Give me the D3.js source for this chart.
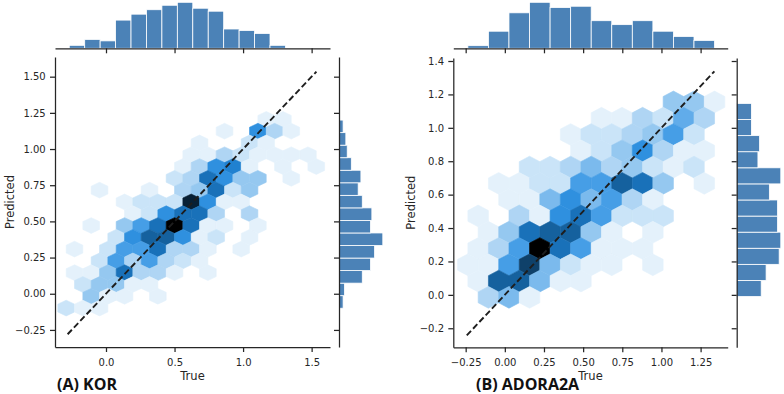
<!DOCTYPE html>
<html><head><meta charset="utf-8">
<script src="https://cdn.jsdelivr.net/npm/d3@7"></script>
<style>
body{margin:0;background:#fff}
svg{display:block}
</style>
</head><body>
<svg id="c" width="784" height="394"></svg>
<script>
// ================= DATA =================
// ---- Panel A: KOR ----
const korXTicks = [0.0, 0.5, 1.0, 1.5];
const korYTicks = [-0.25, 0.0, 0.25, 0.5, 0.75, 1.0, 1.25, 1.5];
const korDiagonal = [-0.28, 1.535];
// hexbin lattice (data units): centre = x0 + i*dx/2 , y0 + j*dy/2
const korHexGrid = { x0: -0.2904, y0: -0.099, dx: 0.1216, dy: 0.163 };
// [i, j, count]
const korHexCells = [
  [24,16,2],[26,16,2],
  [19,15,2],[23,15,9],[25,15,4],[27,15,2],
  [16,14,2],[22,14,3],[24,14,2],
  [15,13,2],[17,13,2],[19,13,4],[21,13,3],[23,13,2],[25,13,2],[27,13,2],[29,13,2],
  [14,12,2],[16,12,4],[18,12,9],[20,12,10],[22,12,2],[26,12,2],[30,12,2],
  [13,11,3],[15,11,4],[17,11,11],[19,11,9],[21,11,5],[23,11,5],[27,11,2],
  [4,10,2],[10,10,2],[14,10,4],[16,10,5],[18,10,11],[20,10,3],[22,10,5],
  [7,9,2],[9,9,3],[11,9,3],[13,9,3],[15,9,16],[17,9,9],[19,9,2],[21,9,2],
  [8,8,2],[10,8,3],[12,8,9],[14,8,11],[16,8,11],[18,8,4],[22,8,4],
  [3,7,2],[7,7,5],[9,7,8],[11,7,11],[13,7,18],[15,7,11],[17,7,2],[19,7,2],[23,7,2],
  [6,6,3],[8,6,9],[10,6,12],[12,6,12],[14,6,9],[16,6,2],[18,6,3],[22,6,2],
  [1,5,2],[5,5,3],[7,5,8],[9,5,8],[11,5,11],[13,5,4],[15,5,4],[17,5,2],[21,5,2],
  [4,4,3],[6,4,8],[8,4,4],[10,4,8],[12,4,4],[14,4,3],[16,4,2],
  [1,3,2],[3,3,2],[5,3,5],[7,3,11],[9,3,4],[11,3,4],[13,3,2],[17,3,2],
  [2,2,3],[4,2,5],[6,2,5],[8,2,2],[10,2,2],
  [3,1,5],[5,1,2],[7,1,2],[11,1,2],
  [0,0,3],[2,0,2],[4,0,2]
];
const korTrueBinStart = -0.268, korTrueBinWidth = 0.11264;
const korTrueCounts = [2, 6, 5, 19, 23, 26, 29, 31, 27, 25, 13, 12, 10, 2];
const korPredBinStart = -0.1, korPredBinWidth = 0.08667;
const korPredCounts = [3, 4, 17, 23, 26, 32, 23, 24, 17, 14, 16, 9, 6, 5, 3];

// ---- Panel B: ADORA2A ----
const adoXTicks = [-0.25, 0.0, 0.25, 0.5, 0.75, 1.0, 1.25];
const adoYTicks = [-0.2, 0.0, 0.2, 0.4, 0.6, 0.8, 1.0, 1.2, 1.4];
const adoDiagonal = [-0.243, 1.338];
const adoHexGrid = { x0: -0.236, y0: -0.015, dx: 0.13125, dy: 0.195 };
const adoHexCells = [
  [20,12,5],[22,12,5],[24,12,2],
  [13,11,2],[15,11,2],[17,11,4],[19,11,3],[21,11,7],[23,11,4],
  [10,10,2],[12,10,3],[14,10,3],[16,10,4],[18,10,5],[20,10,8],[22,10,3],
  [11,9,2],[13,9,3],[15,9,5],[17,9,9],[19,9,4],[21,9,2],[23,9,2],
  [6,8,3],[8,8,3],[10,8,4],[12,8,6],[14,8,4],[16,8,5],[18,8,3],[20,8,2],[22,8,3],
  [3,7,2],[5,7,2],[7,7,3],[9,7,3],[11,7,8],[13,7,8],[15,7,12],[17,7,11],[19,7,5],[23,7,2],
  [4,6,2],[6,6,2],[8,6,6],[10,6,9],[12,6,6],[14,6,8],[16,6,4],[18,6,2],
  [1,5,2],[5,5,4],[7,5,2],[9,5,9],[11,5,11],[13,5,8],[15,5,3],[17,5,3],[19,5,3],
  [2,4,2],[4,4,5],[6,4,11],[8,4,12],[10,4,12],[12,4,5],[14,4,2],[18,4,2],
  [1,3,2],[3,3,4],[5,3,8],[7,3,18],[9,3,11],[11,3,8],[13,3,2],[15,3,2],[17,3,2],
  [0,2,2],[2,2,2],[4,2,8],[6,2,14],[8,2,6],[10,2,3],[12,2,2],[14,2,2],[18,2,2],
  [1,1,2],[3,1,12],[5,1,12],[7,1,6],[9,1,2],[11,1,2],
  [2,0,4],[4,0,6],[6,0,2]
];
const adoTrueBinStart = -0.236, adoTrueBinWidth = 0.13125;
const adoTrueCounts = [2, 13, 27, 35, 31, 32, 21, 18, 21, 13, 9, 6];
const adoPredBinStart = -0.01, adoPredBinWidth = 0.09633;
const adoPredCounts = [15, 18, 26, 27, 25, 25, 20, 27, 13, 14, 9, 9];

// ================= LAYOUT / STYLE =================
const INK = "#262626";
const HIST_FILL = "#4b82b7";
const HEX_HUE = 207, HEX_SAT = 0.76;
const stopT = d3.range(12).map(k => k / 11);
const stopC = stopT.map(t => d3.hsl(HEX_HUE, HEX_SAT, 1 - t).formatHex());
const cmap = d3.scaleLinear().domain(stopT).range(stopC).interpolate(d3.interpolateRgb).clamp(true);

const svg = d3.select("#c");
const TICK = 5;

function drawPanel(cfg) {
  const m = cfg.main;
  const x = d3.scaleLinear().domain(cfg.xDomain).range([m.left, m.right]);
  const y = d3.scaleLinear().domain(cfg.yDomain).range([m.bottom, m.top]);
  const g = svg.append("g");

  // ---- hexbin ----
  const grid = cfg.grid;
  const maxC = d3.max(cfg.cells, d => d[2]);
  const shape = [[0.5,-1/6],[0.5,1/6],[0,1/3],[-0.5,1/6],[-0.5,-1/6],[0,-1/3]];
  const hexPath = d => {
    const cx = grid.x0 + d[0] * grid.dx / 2;
    const cy = grid.y0 + d[1] * grid.dy / 2;
    return "M" + shape.map(([a, b]) => [x(cx + a * grid.dx), y(cy + b * grid.dy)].join(",")).join("L") + "Z";
  };
  g.append("g").selectAll("path").data(cfg.cells).join("path")
    .attr("d", hexPath)
    .attr("fill", d => cmap((d[2] - 1) / (maxC - 1)))
    .attr("stroke", d => cmap((d[2] - 1) / (maxC - 1)))
    .attr("stroke-width", 0.6);

  // ---- diagonal ----
  g.append("line")
    .attr("x1", x(cfg.diag[0])).attr("y1", y(cfg.diag[0]))
    .attr("x2", x(cfg.diag[1])).attr("y2", y(cfg.diag[1]))
    .attr("stroke", "#1e1e1e").attr("stroke-width", 1.9)
    .attr("stroke-dasharray", "6.2,3");

  // ---- main axes ----
  const xa = g.append("g").attr("transform", `translate(0,${m.bottom})`)
    .call(d3.axisBottom(x).tickValues(cfg.xTicks).tickFormat(cfg.xFmt).tickSize(TICK).tickSizeOuter(0).tickPadding(6.6));
  const ya = g.append("g").attr("transform", `translate(${m.left},0)`)
    .call(d3.axisLeft(y).tickValues(cfg.yTicks).tickFormat(cfg.yFmt).tickSize(TICK).tickSizeOuter(0).tickPadding(4.3));
  [xa, ya].forEach(a => {
    a.select(".domain").attr("stroke", INK).attr("stroke-width", 1.25);
    a.selectAll(".tick line").attr("stroke", INK).attr("stroke-width", 1.25);
    a.selectAll(".tick text").attr("fill", INK).attr("font-size", 10)
      .attr("font-family", "DejaVu Sans, sans-serif");
  });

  // ---- top marginal (True) ----
  const t = cfg.topM;
  const yTop = d3.scaleLinear().domain([0, d3.max(cfg.trueCounts) * 1.05]).range([t.bottom, t.top]);
  g.append("g").selectAll("rect").data(cfg.trueCounts).join("rect")
    .attr("x", (d, k) => x(cfg.trueStart + k * cfg.trueWidth))
    .attr("width", (d, k) => x(cfg.trueStart + (k + 1) * cfg.trueWidth) - x(cfg.trueStart + k * cfg.trueWidth))
    .attr("y", d => yTop(d))
    .attr("height", d => yTop(0) - yTop(d))
    .attr("fill", HIST_FILL).attr("stroke", "#fff").attr("stroke-width", 0.8);
  const xt = g.append("g").attr("transform", `translate(0,${t.bottom})`)
    .call(d3.axisBottom(x).tickValues(cfg.xTicks).tickFormat("").tickSize(TICK).tickSizeOuter(0));

  // ---- right marginal (Predicted) ----
  const r = cfg.rightM;
  const xRight = d3.scaleLinear().domain([0, d3.max(cfg.predCounts) * 1.05]).range([r.left, r.right]);
  g.append("g").selectAll("rect").data(cfg.predCounts).join("rect")
    .attr("x", xRight(0))
    .attr("width", d => xRight(d) - xRight(0))
    .attr("y", (d, k) => y(cfg.predStart + (k + 1) * cfg.predWidth))
    .attr("height", (d, k) => y(cfg.predStart + k * cfg.predWidth) - y(cfg.predStart + (k + 1) * cfg.predWidth))
    .attr("fill", HIST_FILL).attr("stroke", "#fff").attr("stroke-width", 0.8);
  const yr = g.append("g").attr("transform", `translate(${r.left},0)`)
    .call(d3.axisLeft(y).tickValues(cfg.yTicks).tickFormat("").tickSize(TICK).tickSizeOuter(0));
  [xt, yr].forEach(a => {
    a.select(".domain").attr("stroke", INK).attr("stroke-width", 1.25);
    a.selectAll(".tick line").attr("stroke", INK).attr("stroke-width", 1.25);
  });

  // ---- labels ----
  g.append("text").text("True")
    .attr("x", (m.left + m.right) / 2).attr("y", 380)
    .attr("text-anchor", "middle").attr("font-size", 11.5).attr("fill", INK)
    .attr("font-family", "DejaVu Sans, sans-serif");
  g.append("text").text("Predicted")
    .attr("transform", `translate(${cfg.ylabX},${(m.top + m.bottom) / 2}) rotate(-90)`)
    .attr("text-anchor", "middle").attr("font-size", 11.5).attr("fill", INK)
    .attr("font-family", "DejaVu Sans, sans-serif");
  g.append("text").text(cfg.title)
    .attr("x", cfg.titleX).attr("y", 390)
    .attr("font-size", 16).attr("font-weight", "bold").attr("fill", "#111")
    .attr("font-family", "Open Sans, sans-serif");
}

drawPanel({
  main: { left: 55, right: 330, top: 57, bottom: 347 },
  topM: { top: 0, bottom: 48.3 },
  rightM: { left: 339, right: 385 },
  xDomain: [-0.372, 1.634], yDomain: [-0.368, 1.636],
  xTicks: korXTicks, yTicks: korYTicks,
  xFmt: d3.format(".1f"), yFmt: d3.format(".2f"),
  grid: korHexGrid, cells: korHexCells, diag: korDiagonal,
  trueStart: korTrueBinStart, trueWidth: korTrueBinWidth, trueCounts: korTrueCounts,
  predStart: korPredBinStart, predWidth: korPredBinWidth, predCounts: korPredCounts,
  title: "(A) KOR", titleX: 57, ylabX: 13.5
});

drawPanel({
  main: { left: 453.3, right: 727.7, top: 58, bottom: 347.3 },
  topM: { top: 0, bottom: 48.3 },
  rightM: { left: 736.7, right: 783 },
  xDomain: [-0.329, 1.423], yDomain: [-0.314, 1.418],
  xTicks: adoXTicks, yTicks: adoYTicks,
  xFmt: d3.format(".2f"), yFmt: d3.format(".1f"),
  grid: adoHexGrid, cells: adoHexCells, diag: adoDiagonal,
  trueStart: adoTrueBinStart, trueWidth: adoTrueBinWidth, trueCounts: adoTrueCounts,
  predStart: adoPredBinStart, predWidth: adoPredBinWidth, predCounts: adoPredCounts,
  title: "(B) ADORA2A", titleX: 476, ylabX: 415
});
</script>
</body></html>
